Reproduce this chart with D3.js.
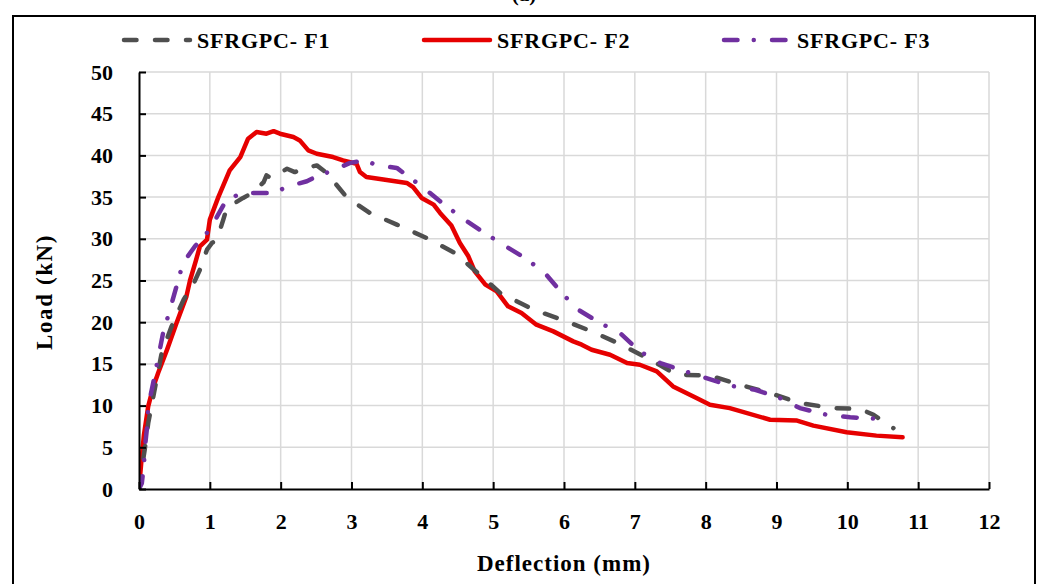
<!DOCTYPE html>
<html>
<head>
<meta charset="utf-8">
<script src="https://cdn.jsdelivr.net/npm/d3@7/dist/d3.min.js"></script>
<style>
  html, body { margin: 0; padding: 0; background: #fff; }
  svg { display: block; }
  text { font-family: "Liberation Serif", "Times New Roman", serif; font-weight: bold; fill: #000; }
</style>
</head>
<body>
<svg id="chart" width="1046" height="584"></svg>
<script>
// Load–deflection curves of the three SFRGPC specimens
const seriesNames = ["SFRGPC- F1", "SFRGPC- F2", "SFRGPC- F3"];

const f1Deflection = [0, 0.04, 0.08, 0.13, 0.2, 0.32, 0.46, 0.63, 0.78, 0.86, 0.96, 1.03, 1.1, 1.19, 1.24, 1.47, 1.62, 1.76, 1.8, 1.86, 2.09, 2.2, 2.35, 2.51, 2.65, 2.93, 3.26, 3.64, 4.06, 4.46, 4.81, 5.1, 5.57, 5.97, 6.39, 6.81, 7.26, 7.59, 8.06, 8.44, 8.91, 9.33, 9.8, 10.18, 10.37, 10.65];
const f1Load = [0, 2.5, 4.7, 7.9, 11, 16.3, 19.5, 22.7, 24.8, 26.3, 28.7, 29.5, 29.9, 32.3, 33.7, 34.9, 35.6, 36.8, 37.6, 37.3, 38.4, 38.0, 38.5, 38.8, 37.9, 35.0, 33.1, 31.7, 30.1, 28.3, 25.7, 23.5, 21.5, 20.3, 18.9, 17.3, 15.3, 13.7, 13.6, 12.6, 11.5, 10.3, 9.7, 9.6, 8.9, 7.3];

const f2Deflection = [0, 0.03, 0.07, 0.13, 0.2, 0.27, 0.4, 0.53, 0.67, 0.72, 0.8, 0.86, 0.96, 1.0, 1.12, 1.28, 1.43, 1.54, 1.66, 1.8, 1.9, 1.99, 2.18, 2.27, 2.39, 2.51, 2.74, 2.88, 3.07, 3.12, 3.21, 3.45, 3.78, 3.87, 3.99, 4.16, 4.25, 4.41, 4.53, 4.65, 4.74, 4.89, 5.05, 5.21, 5.4, 5.61, 5.85, 6.13, 6.25, 6.39, 6.65, 6.89, 7.07, 7.31, 7.54, 7.87, 8.06, 8.34, 8.91, 9.29, 9.52, 9.99, 10.41, 10.78];
const f2Load = [0, 3, 6.5, 9.9, 12.2, 13.9, 16.8, 19.9, 23.1, 25, 27.3, 29.1, 29.9, 32.3, 35.0, 38.2, 39.8, 42.0, 42.8, 42.6, 42.9, 42.6, 42.2, 41.8, 40.6, 40.2, 39.8, 39.4, 39.0, 38.0, 37.4, 37.1, 36.7, 36.2, 34.9, 34.1, 33.1, 31.6, 29.5, 27.9, 26.1, 24.5, 23.7, 21.9, 21.1, 19.7, 18.9, 17.7, 17.3, 16.7, 16.1, 15.1, 14.9, 14.1, 12.3, 10.9, 10.1, 9.7, 8.3, 8.2, 7.6, 6.8, 6.4, 6.2];

const f3Deflection = [0, 0.04, 0.07, 0.09, 0.11, 0.13, 0.2, 0.27, 0.34, 0.43, 0.53, 0.62, 0.79, 1.0, 1.21, 1.43, 1.9, 2.11, 2.37, 2.51, 2.74, 2.98, 3.17, 3.38, 3.64, 3.78, 3.99, 4.25, 4.56, 4.84, 5.14, 5.45, 5.73, 5.99, 6.2, 6.51, 6.79, 7.07, 7.36, 7.64, 8.01, 8.34, 8.7, 9.05, 9.33, 9.71, 10.04, 10.46];
const f3Load = [0, 0.7, 3, 5.5, 7.1, 9.9, 12.7, 15.7, 18.7, 21.3, 24.3, 27.1, 29.1, 31.1, 34.3, 35.5, 35.5, 36.3, 36.9, 37.5, 38.2, 39.1, 39.4, 38.8, 38.5, 37.6, 36.3, 34.5, 32.5, 30.9, 29.3, 27.7, 25.9, 23.3, 21.5, 19.9, 18.7, 16.5, 15.1, 14.3, 13.3, 12.4, 11.9, 10.9, 9.7, 8.9, 8.6, 8.4];

const xTicks = [0, 1, 2, 3, 4, 5, 6, 7, 8, 9, 10, 11, 12];
const yTicks = [0, 5, 10, 15, 20, 25, 30, 35, 40, 45, 50];

const xTitle = "Deflection (mm)";
const yTitle = "Load (kN)";
const panelLabel = "(a)";

const series = [
  { name: seriesNames[0], x: f1Deflection, y: f1Load, color: "#4f4f4f", width: 4.5, dash: "12.5,18.5" },
  { name: seriesNames[1], x: f2Deflection, y: f2Load, color: "#e60000", width: 4.5, dash: null },
  { name: seriesNames[2], x: f3Deflection, y: f3Load, color: "#7030a0", width: 4.5, dash: "13.5,16.25,0.01,18.25" }
];

const svg = d3.select("#chart");
const W = 1046, H = 584;
const plot = { left: 139, right: 989, top: 72, bottom: 489 };

const x = d3.scaleLinear().domain([0, 12]).range([plot.left, plot.right]);
const y = d3.scaleLinear().domain([0, 50]).range([plot.bottom, plot.top]);

// outer frame
svg.append("rect")
  .attr("x", 13).attr("y", 16)
  .attr("width", 1022).attr("height", H)
  .attr("fill", "none").attr("stroke", "#000").attr("stroke-width", 2);

// panel label sitting above the frame, at the very top edge
svg.append("text")
  .attr("x", 524).attr("y", 1)
  .attr("text-anchor", "middle")
  .style("font-size", "21px")
  .text(panelLabel);

// grid
const grid = svg.append("g").attr("stroke", "#d9d9d9").attr("stroke-width", 1.5);
grid.selectAll("line.h").data(yTicks.filter(d => d > 0)).join("line")
  .attr("x1", plot.left).attr("x2", plot.right)
  .attr("y1", d => y(d)).attr("y2", d => y(d));
grid.selectAll("line.v").data(xTicks.filter(d => d > 0)).join("line")
  .attr("y1", plot.top).attr("y2", plot.bottom)
  .attr("x1", d => x(d)).attr("x2", d => x(d));

// curves
svg.append("clipPath").attr("id", "plotClip")
  .append("rect").attr("x", plot.left).attr("y", plot.top - 10)
  .attr("width", plot.right - plot.left + 10).attr("height", plot.bottom - plot.top + 10);

const line = d3.line().x(d => x(d[0])).y(d => y(d[1]));
const curves = svg.append("g").attr("clip-path", "url(#plotClip)");
// stacking: F2 underneath, then F1, then F3
[series[1], series[0], series[2]].forEach(s => {
  const pts = s.x.map((v, i) => [v, s.y[i]]);
  curves.append("path")
    .datum(pts)
    .attr("d", line)
    .attr("fill", "none")
    .attr("stroke", s.color)
    .attr("stroke-width", s.width)
    .attr("stroke-linecap", "round")
    .attr("stroke-linejoin", "round")
    .attr("stroke-dasharray", s.dash);
});

// axes
const xAxis = d3.axisBottom(x).tickValues(xTicks).tickSizeInner(-7).tickSizeOuter(0).tickPadding(24).tickFormat(d3.format("d"));
const yAxis = d3.axisLeft(y).tickValues(yTicks).tickSizeInner(-7).tickSizeOuter(0).tickPadding(26).tickFormat(d3.format("d"));

const gx = svg.append("g").attr("transform", `translate(0,${plot.bottom})`).call(xAxis);
const gy = svg.append("g").attr("transform", `translate(${plot.left},0)`).call(yAxis);
[gx, gy].forEach(g => {
  g.select(".domain").attr("stroke", "#000").attr("stroke-width", 2);
  g.selectAll(".tick line").attr("stroke", "#000").attr("stroke-width", 2);
  g.selectAll(".tick text")
    .style("font-family", '"Liberation Serif", serif')
    .style("font-weight", "bold")
    .style("font-size", "22px")
    .attr("fill", "#000");
});
gx.selectAll(".tick text").attr("dy", "0.71em");
gy.selectAll(".tick text").attr("dy", "0.32em");

// axis titles
svg.append("text")
  .attr("x", 564).attr("y", 571)
  .attr("text-anchor", "middle")
  .style("font-size", "23px")
  .style("letter-spacing", "1px")
  .text(xTitle);

svg.append("text")
  .attr("transform", `translate(52,292) rotate(-90)`)
  .attr("text-anchor", "middle")
  .style("font-size", "23px")
  .style("letter-spacing", "1.6px")
  .text(yTitle);

// legend
const legendX = [122, 422, 722];
const legend = svg.append("g");
series.forEach((s, i) => {
  const g = legend.append("g").attr("transform", `translate(${legendX[i]},40)`);
  g.append("line")
    .attr("x1", 2).attr("x2", 68).attr("y1", 0).attr("y2", 0)
    .attr("stroke", s.color)
    .attr("stroke-width", s.width)
    .attr("stroke-linecap", "round")
    .attr("stroke-dasharray", s.dash);
  g.append("text")
    .attr("x", 75).attr("y", 0).attr("dy", "0.35em")
    .style("font-size", "22px")
    .style("letter-spacing", "0.8px")
    .text(s.name);
});
</script>
</body>
</html>
